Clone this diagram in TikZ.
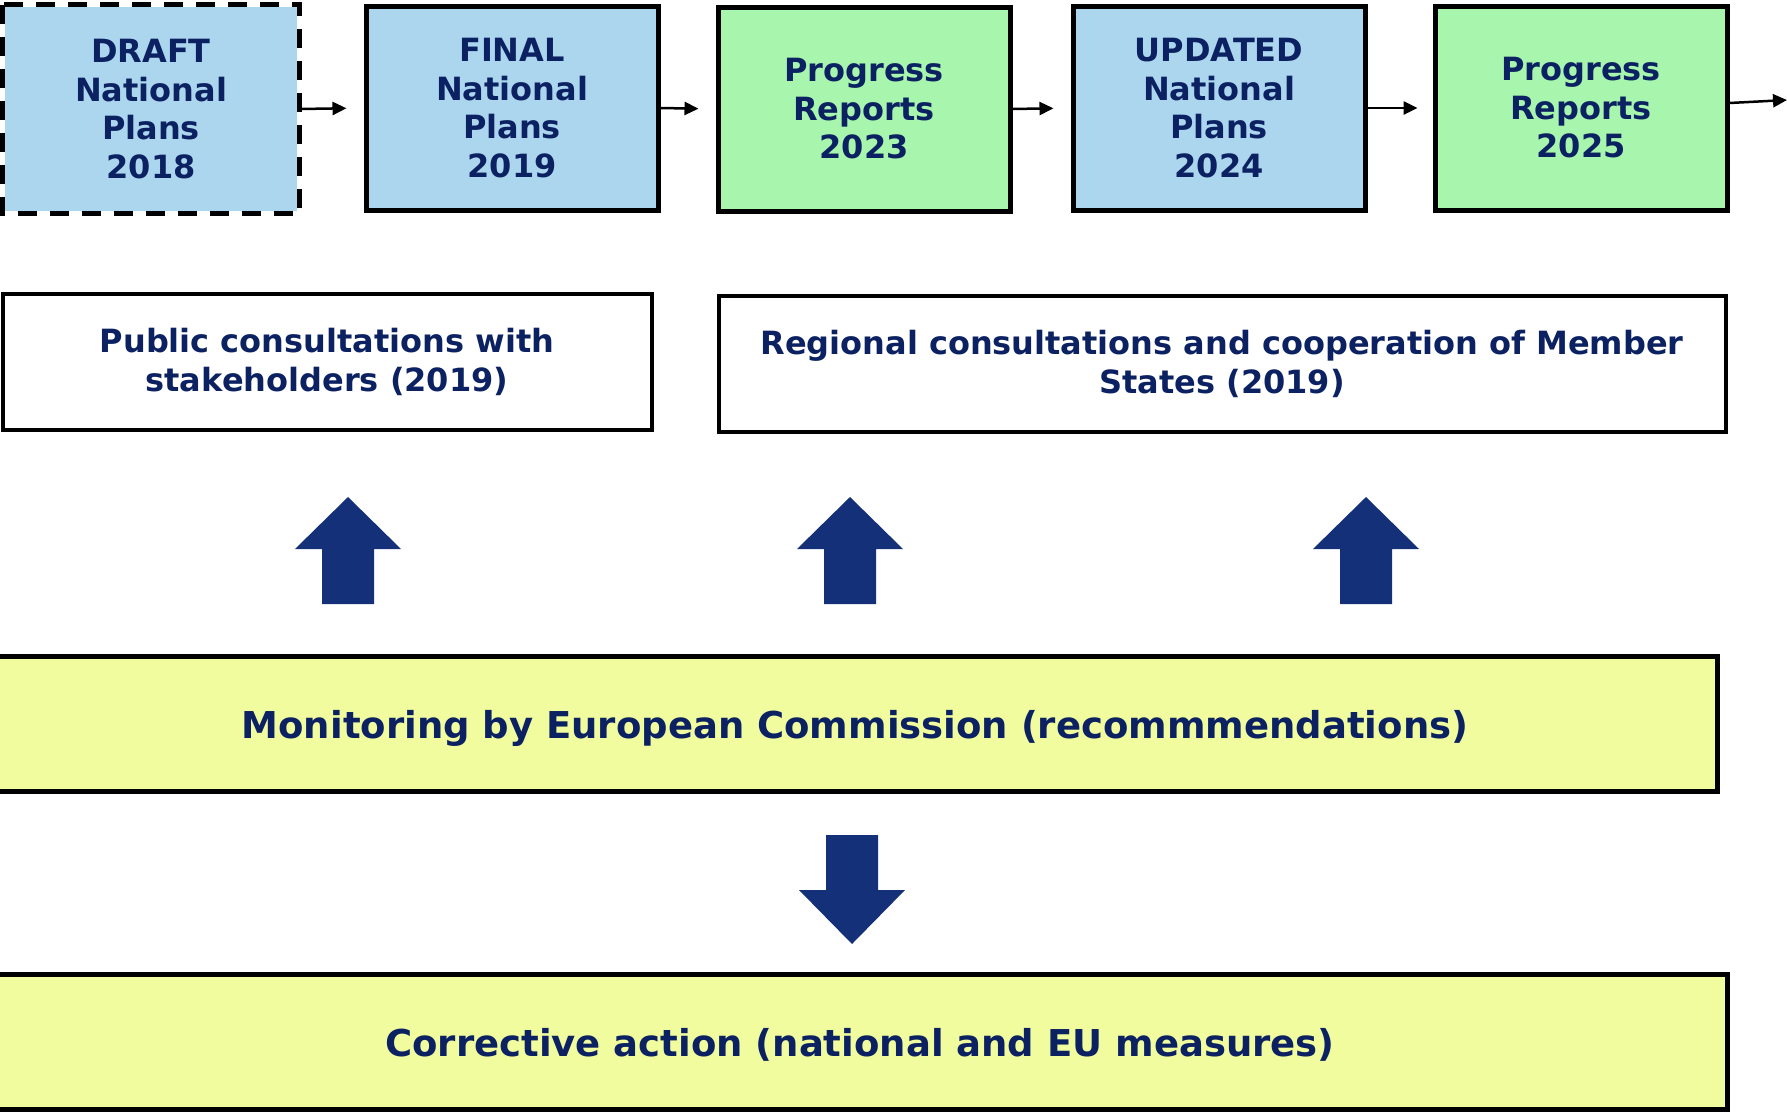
\documentclass[tikz,border=0pt]{standalone}
\usepackage{fontspec}
\setmainfont{DejaVu Sans}
\usetikzlibrary{arrows.meta}
\definecolor{navytext}{HTML}{0B2161}
\definecolor{navyarrow}{HTML}{143079}
\definecolor{planblue}{HTML}{ABD6EE}
\definecolor{reportgreen}{HTML}{A8F5AE}
\definecolor{monyellow}{HTML}{F1FC9E}
\begin{document}
\begin{tikzpicture}[x=1pt,y=-1pt,every text node part/.style={align=center},
  every node/.style={font=\fontsize{32}{38.5}\selectfont\bfseries,text=navytext},
  stage/.style={draw,line width=5pt,minimum width=292pt,minimum height=204pt,inner sep=0pt},
  plan/.style={stage,fill=planblue},
  report/.style={stage,fill=reportgreen},
  consult/.style={draw,line width=4pt,minimum height=136pt,inner sep=0pt},
  wide/.style={draw,line width=5pt,fill=monyellow,minimum height=135pt,inner sep=0pt,
    text height=37pt,text depth=9pt,font=\fontsize{37}{44}\selectfont\bfseries},
  flow/.style={line width=2.5pt,-{Triangle[length=14pt,width=13pt]}},
  blockarrow/.style={fill=navyarrow}]

\useasboundingbox (0,0) rectangle (1787,1114);

% time line
\node[plan,draw=none] (draft) at (151,109) {DRAFT\\National\\Plans\\2018};
\draw[line width=5.5pt,dash pattern=on 19pt off 13pt] (draft.north west) rectangle (draft.south east);
\node[plan] (final) at (512,108) {FINAL\\National\\Plans\\2019};
\node[report] (prog23) at (864,109) {Progress\\Reports\\2023};
\node[plan] (updated) at (1219,108) {UPDATED\\National\\Plans\\2024};
\node[report] (prog25) at (1581,108) {Progress\\Reports\\2025};
\coordinate (exit) at (1787,100);

\draw[flow,shorten >=17pt] (draft.east) -- (final.west);
\draw[flow,shorten >=17pt] (final.east) -- (prog23.west);
\draw[flow,shorten >=17pt] (prog23.east) -- (updated.west);
\draw[flow,shorten >=15pt] (updated.east) -- (prog25.west);
\draw[flow] ([yshift=5pt]prog25.east) -- (exit);

% consultations
\node[consult,minimum width=649pt] (public) at (327,362) {Public consultations with\\stakeholders (2019)};
\node[consult,minimum width=1007pt] (regional) at (1222,364) {Regional consultations and cooperation of Member\\States (2019)};

\fill[blockarrow] (322,604)--(322,549)--(295,549)--(348,497)--(401,549)--(374,549)--(374,604)--cycle;
\fill[blockarrow] (824,604)--(824,549)--(797,549)--(850,497)--(903,549)--(876,549)--(876,604)--cycle;
\fill[blockarrow] (1340,604)--(1340,549)--(1313,549)--(1366,497)--(1419,549)--(1392,549)--(1392,604)--cycle;

% monitoring and action
\node[wide,minimum width=1725pt] (monitor) at (855,724) {Monitoring by European Commission (recommmendations)};
\node[wide,minimum width=1735pt] (corrective) at (860,1042) {Corrective action (national and EU measures)};

\fill[blockarrow] (826,835)--(878,835)--(878,890)--(905,890)--(852,944)--(799,890)--(826,890)--cycle;

\end{tikzpicture}
\end{document}
